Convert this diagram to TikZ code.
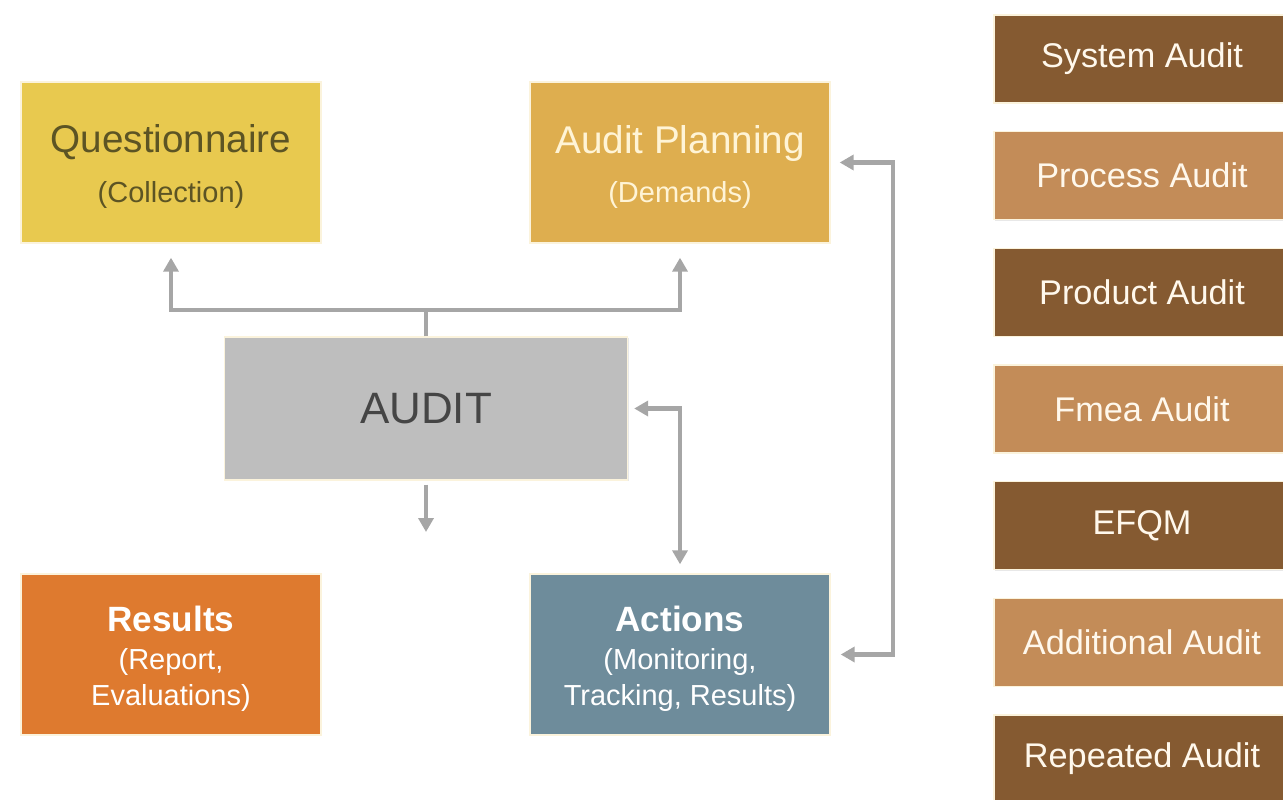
\documentclass[tikz,border=0pt]{standalone}
\usepackage{fontspec}
\setmainfont{Liberation Sans}
\usetikzlibrary{arrows.meta,shadows}

\definecolor{questyellow}{HTML}{E8C94F}
\definecolor{questtext}{HTML}{5C5424}
\definecolor{planorange}{HTML}{DEAE4F}
\definecolor{plantext}{HTML}{FFF4D6}
\definecolor{auditgray}{HTML}{BEBEBE}
\definecolor{audittext}{HTML}{454545}
\definecolor{resultorange}{HTML}{DE7A2F}
\definecolor{actionblue}{HTML}{6E8C9B}
\definecolor{darkbrown}{HTML}{855A31}
\definecolor{lightbrown}{HTML}{C38C58}
\definecolor{typetext}{HTML}{FFF8EC}
\definecolor{boxedge}{HTML}{FBF3DC}
\definecolor{conngray}{HTML}{A6A6A6}

\begin{document}
\begin{tikzpicture}[x=0.02cm,y=-0.02cm,
    box/.style={draw=boxedge, line width=0.8pt, align=center, inner sep=0pt,
      drop shadow={opacity=0.18,shadow xshift=0.6pt,shadow yshift=-0.6pt}},
    bigbox/.style={box, minimum width=6.0cm, minimum height=3.22cm,
      font=\fontsize{16.5}{20.5}\selectfont},
    typebox/.style={box, minimum width=5.92cm, minimum height=1.76cm,
      text=typetext, font=\fontsize{19.5}{23}\selectfont},
    conn/.style={draw=conngray, line width=2.3pt,
      >={Triangle[length=0.28cm,width=0.3cm]}}]

  \useasboundingbox (0,0) rectangle (1283,800);

  % main boxes
  \node[bigbox, fill=questyellow, text=questtext] (quest) at (171,162.5)
    {\rule{0pt}{21pt}{\fontsize{22}{26}\selectfont Questionnaire}\\[8pt](Collection)};
  \node[bigbox, fill=planorange, text=plantext] (plan) at (680,162.5)
    {\rule{0pt}{21pt}{\fontsize{22}{26}\selectfont Audit Planning}\\[7pt](Demands)};
  \node[box, fill=auditgray, text=audittext, minimum width=8.06cm, minimum height=2.86cm,
    font=\fontsize{25}{30}\selectfont] (audit) at (426,408.5) {AUDIT};
  \node[bigbox, fill=resultorange, text=white] (results) at (171,654.5)
    {\rule{0pt}{19pt}{\fontsize{20}{24}\bfseries Results}\\[1pt](Report,\\Evaluations)};
  \node[bigbox, fill=actionblue, text=white] (actions) at (680,654.5)
    {\rule{0pt}{19pt}{\fontsize{20}{24}\bfseries Actions}\\[1pt](Monitoring,\\Tracking, Results)};

  % audit types
  \node[typebox, fill=darkbrown] (sysaudit) at (1142,59) {System Audit};
  \node[typebox, fill=lightbrown] (procaudit) at (1142,175.7) {Process Audit};
  \node[typebox, fill=darkbrown] (prodaudit) at (1142,292.3) {Product Audit};
  \node[typebox, fill=lightbrown] (fmeaaudit) at (1142,409) {Fmea Audit};
  \node[typebox, fill=darkbrown] (efqm) at (1142,525.7) {EFQM};
  \node[typebox, fill=lightbrown] (addaudit) at (1142,642.3) {Additional Audit};
  \node[typebox, fill=darkbrown] (repaudit) at (1142,759) {Repeated Audit};

  % connectors
  \coordinate (fork) at (426,310);
  \coordinate (auditout) at (426,532);
  \draw[conn] (audit.north) -- (fork);
  \draw[conn,->,shorten >=0.28cm] (fork) -| (quest.south);
  \draw[conn,->,shorten >=0.28cm] (fork) -| (plan.south);
  \draw[conn,->,shorten <=0.08cm] (audit.south) -- (auditout);
  \draw[conn,<->,shorten <=0.12cm,shorten >=0.18cm] (audit.east) -| (actions.north);
  \draw[conn,<->,shorten <=0.18cm,shorten >=0.2cm] (plan.east) -- ++(62,0) |- (actions.east);

\end{tikzpicture}
\end{document}
